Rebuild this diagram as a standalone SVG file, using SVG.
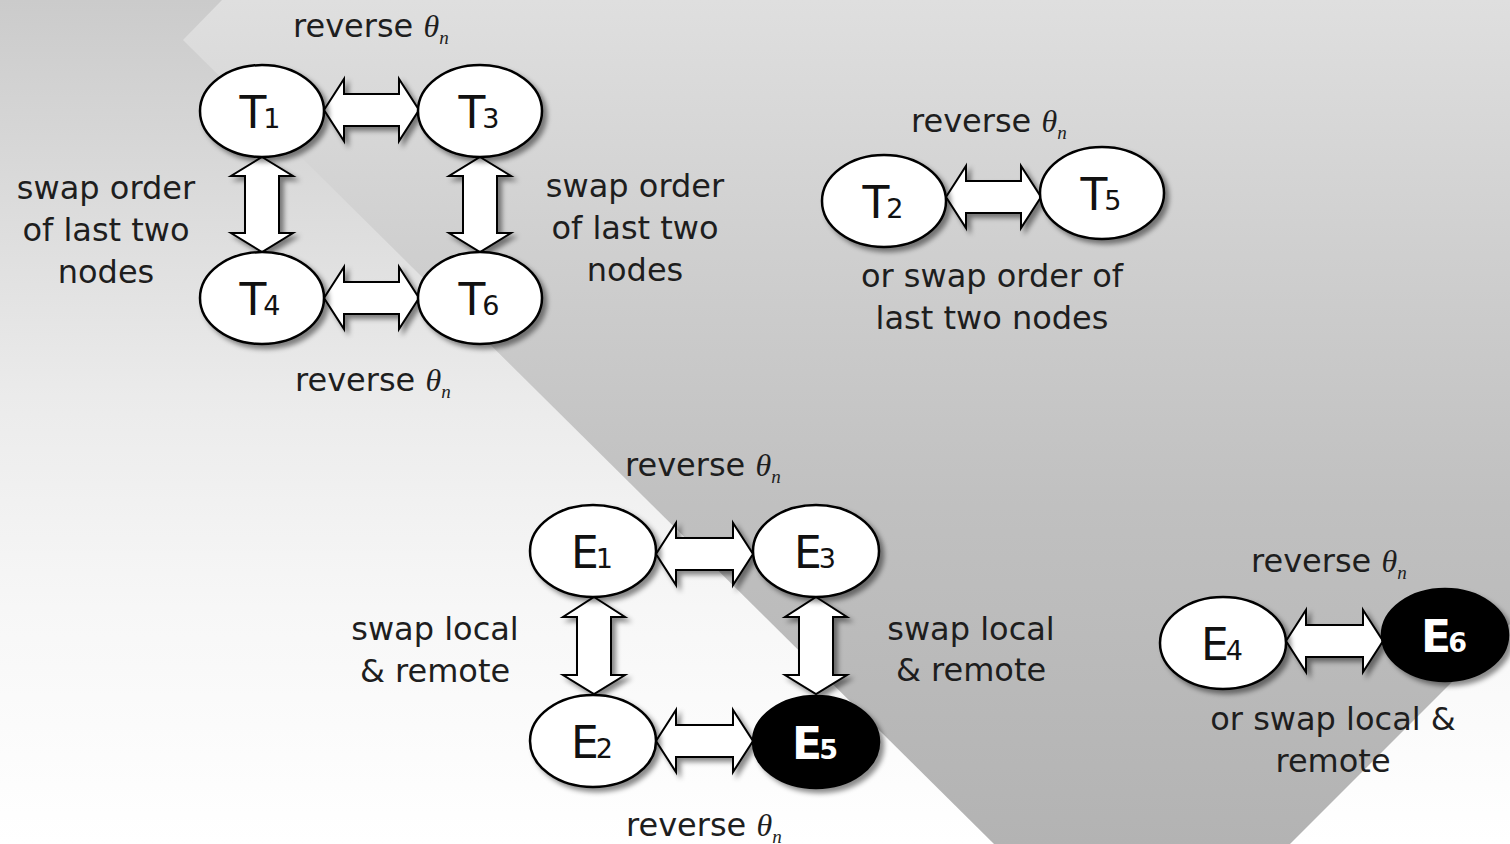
<svg xmlns="http://www.w3.org/2000/svg" width="1510" height="844" viewBox="0 0 1510 844">
<defs>
<linearGradient id="bgL" x1="0" y1="0" x2="0" y2="1">
<stop offset="0" stop-color="#cbcbcb"/>
<stop offset="0.25" stop-color="#dcdcdc"/>
<stop offset="0.47" stop-color="#ebebeb"/>
<stop offset="0.72" stop-color="#f7f7f7"/>
<stop offset="1" stop-color="#ffffff"/>
</linearGradient>
<linearGradient id="bgR" x1="0" y1="0" x2="0" y2="1">
<stop offset="0" stop-color="#dfdfdf"/>
<stop offset="0.36" stop-color="#cccccc"/>
<stop offset="0.6" stop-color="#c0c0c0"/>
<stop offset="1" stop-color="#b3b3b3"/>
</linearGradient>
<filter id="sh" x="-20%" y="-20%" width="150%" height="150%">
<feDropShadow dx="4" dy="4" stdDeviation="2.5" flood-color="#000" flood-opacity="0.45"/>
</filter>
<style>
.nd{fill:#fff;stroke:#000;stroke-width:2.5;filter:url(#sh)}
.nb{fill:#000;stroke:#000;stroke-width:2.5;filter:url(#sh)}
.ar{fill:#fff;stroke:#000;stroke-width:2;stroke-linejoin:miter;filter:url(#sh)}
.lb{font-family:"DejaVu Sans",sans-serif;font-size:32px;fill:#1e1e1e}
.th{font-family:"Liberation Serif",serif;font-style:italic;font-size:32px}
.sb{font-family:"Liberation Serif",serif;font-style:italic;font-size:19px}
.nl{font-family:"DejaVu Sans",sans-serif;font-size:44px;fill:#111;text-anchor:middle}
.nw{font-family:"DejaVu Sans",sans-serif;font-size:44px;font-weight:bold;fill:#fff;text-anchor:middle}
.dg{font-size:27px}
.mid{text-anchor:middle}
</style>
</defs>
<rect x="0" y="0" width="1510" height="844" fill="url(#bgL)"/>
<polygon points="222,0 1510,0 1510,624 1290,844 994,844 183,40" fill="url(#bgR)"/>

<g id="connectors">
<polygon class="ar" points="324,110 344,79 344,94 399,94 399,79 419,110 399,141 399,126 344,126 344,141"/>
<polygon class="ar" points="324,298 344,267 344,282 399,282 399,267 419,298 399,329 399,314 344,314 344,329"/>
<polygon class="ar" points="262,157 293,176 279,176 279,233 293,233 262,252 231,233 245,233 245,176 231,176"/>
<polygon class="ar" points="480,157 511,176 497,176 497,233 511,233 480,252 449,233 463,233 463,176 449,176"/>
<polygon class="ar" points="946,197 966,166 966,181 1021,181 1021,166 1041,197 1021,228 1021,213 966,213 966,228"/>
<polygon class="ar" points="656,554 676,523 676,538 733,538 733,523 753,554 733,585 733,570 676,570 676,585"/>
<polygon class="ar" points="656,741 676,710 676,725 733,725 733,710 753,741 733,772 733,757 676,757 676,772"/>
<polygon class="ar" points="594,597 625,617 611,617 611,675 625,675 594,694 563,675 577,675 577,617 563,617"/>
<polygon class="ar" points="816,597 847,617 833,617 833,675 847,675 816,694 785,675 799,675 799,617 785,617"/>
<polygon class="ar" points="1286,641 1306,610 1306,625 1363,625 1363,610 1383,641 1363,672 1363,657 1306,657 1306,672"/>
</g>

<g id="T1"><ellipse class="nd" cx="262" cy="111" rx="62" ry="46"/><text class="nl" x="260" y="128">T<tspan class="dg" dx="-3">1</tspan></text></g>
<g id="T3"><ellipse class="nd" cx="480" cy="111" rx="62" ry="46"/><text class="nl" x="479" y="128">T<tspan class="dg" dx="-3">3</tspan></text></g>
<g id="T4"><ellipse class="nd" cx="262" cy="298" rx="62" ry="46"/><text class="nl" x="260" y="315">T<tspan class="dg" dx="-3">4</tspan></text></g>
<g id="T6"><ellipse class="nd" cx="480" cy="298" rx="62" ry="46"/><text class="nl" x="479" y="315">T<tspan class="dg" dx="-3">6</tspan></text></g>
<g id="T2"><ellipse class="nd" cx="884" cy="201" rx="62" ry="46"/><text class="nl" x="883" y="218">T<tspan class="dg" dx="-3">2</tspan></text></g>
<g id="T5"><ellipse class="nd" cx="1102" cy="193" rx="62" ry="46"/><text class="nl" x="1101" y="210">T<tspan class="dg" dx="-3">5</tspan></text></g>
<g id="E1"><ellipse class="nd" cx="593" cy="551" rx="63" ry="46"/><text class="nl" x="592" y="568">E<tspan class="dg" dx="-3">1</tspan></text></g>
<g id="E3"><ellipse class="nd" cx="816" cy="551" rx="63" ry="46"/><text class="nl" x="815" y="568">E<tspan class="dg" dx="-3">3</tspan></text></g>
<g id="E2"><ellipse class="nd" cx="593" cy="741" rx="63" ry="46"/><text class="nl" x="592" y="758">E<tspan class="dg" dx="-3">2</tspan></text></g>
<g id="E5"><ellipse class="nb" cx="816" cy="742" rx="63" ry="46"/><text class="nw" x="815" y="759">E<tspan class="dg" dx="-3">5</tspan></text></g>
<g id="E4"><ellipse class="nd" cx="1223" cy="643" rx="63" ry="46"/><text class="nl" x="1222" y="660">E<tspan class="dg" dx="-3">4</tspan></text></g>
<g id="E6"><ellipse class="nb" cx="1445" cy="635" rx="63" ry="46"/><text class="nw" x="1444" y="652">E<tspan class="dg" dx="-3">6</tspan></text></g>

<g id="labels">
<text class="lb" x="293" y="37">reverse <tspan class="th">θ</tspan><tspan class="sb" dy="7">n</tspan></text>
<text class="lb" x="295" y="391">reverse <tspan class="th">θ</tspan><tspan class="sb" dy="7">n</tspan></text>
<text class="lb" x="911" y="132">reverse <tspan class="th">θ</tspan><tspan class="sb" dy="7">n</tspan></text>
<text class="lb" x="625" y="476">reverse <tspan class="th">θ</tspan><tspan class="sb" dy="7">n</tspan></text>
<text class="lb" x="626" y="836">reverse <tspan class="th">θ</tspan><tspan class="sb" dy="7">n</tspan></text>
<text class="lb" x="1251" y="572">reverse <tspan class="th">θ</tspan><tspan class="sb" dy="7">n</tspan></text>
<text class="lb mid" x="106" y="199">swap order</text>
<text class="lb mid" x="106" y="241">of last two</text>
<text class="lb mid" x="106" y="283">nodes</text>
<text class="lb mid" x="635" y="197">swap order</text>
<text class="lb mid" x="635" y="239">of last two</text>
<text class="lb mid" x="635" y="281">nodes</text>
<text class="lb mid" x="992" y="287">or swap order of</text>
<text class="lb mid" x="992" y="329">last two nodes</text>
<text class="lb mid" x="435" y="640">swap local</text>
<text class="lb mid" x="435" y="682">&amp; remote</text>
<text class="lb mid" x="971" y="640">swap local</text>
<text class="lb mid" x="971" y="681">&amp; remote</text>
<text class="lb mid" x="1333" y="730">or swap local &amp;</text>
<text class="lb mid" x="1333" y="772">remote</text>
</g>
</svg>
